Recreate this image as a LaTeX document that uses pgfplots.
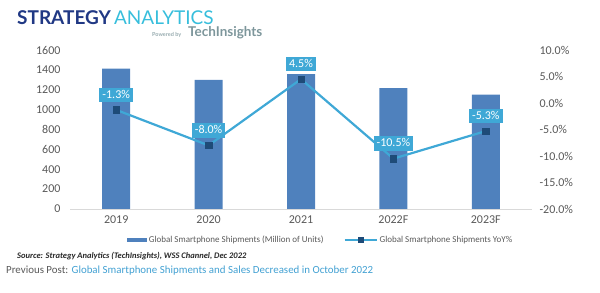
\documentclass[border=0pt]{standalone}
\usepackage{pgfplots}
\pgfplotsset{compat=1.18}
\usepackage{fontspec}
\setmainfont{Carlito}
\newfontfamily\logofont{Lato}

\definecolor{barblue}{RGB}{79,129,189}
\definecolor{lineblue}{RGB}{63,168,214}
\definecolor{marknavy}{RGB}{30,75,120}
\definecolor{tickgray}{RGB}{89,89,89}
\definecolor{basegray}{RGB}{217,217,217}
\definecolor{logonavy}{RGB}{32,56,132}
\definecolor{logocyan}{RGB}{55,190,220}
\definecolor{techgray}{RGB}{125,150,155}
\definecolor{linkblue}{RGB}{65,160,210}

\begin{document}
\begin{tikzpicture}[x=1pt,y=1pt]
\useasboundingbox (0,0) rectangle (600,292);

% header logo
\node[anchor=base west,inner sep=0,text=logonavy] at (17,267)
  {\logofont\fontsize{19}{19}\selectfont\bfseries STRATEGY\,\textcolor{logocyan}{\mdseries ANALYTICS}};
\node[anchor=base west,inner sep=0,text=techgray!80] at (152,255)
  {\logofont\fontsize{5.5}{6}\selectfont\bfseries Powered by};
\node[anchor=base west,inner sep=0,text=techgray] at (188,255)
  {\logofont\fontsize{13.5}{13.5}\selectfont\bfseries TechInsights};

% shipments (left axis)
\begin{axis}[
  at={(70pt,83pt)}, anchor=south west,
  scale only axis, width=462pt, height=159pt,
  xmin=-0.5, xmax=4.5, ymin=0, ymax=1600,
  axis x line*=bottom, axis y line*=left,
  x axis line style={draw=basegray, line width=0.8pt},
  y axis line style={draw=none},
  major tick length=0pt,
  xtick={0,...,4}, xticklabels={2019,2020,2021,2022F,2023F},
  ytick={0,200,...,1600},
  ticklabel style={font=\fontsize{12}{12}\selectfont, text=tickgray},
  xticklabel style={yshift=-3pt},
  yticklabel style={xshift=-6pt},
  /pgf/number format/assume math mode=true,
  /pgf/number format/1000 sep={},
  clip=false,
]
\addplot[ybar, bar width=28pt, fill=barblue, draw=none]
  coordinates {(0,1412) (1,1300) (2,1358) (3,1216) (4,1152)};
\end{axis}

% year-on-year growth (right axis)
\begin{axis}[
  at={(70pt,83pt)}, anchor=south west,
  scale only axis, width=462pt, height=159pt,
  xmin=-0.5, xmax=4.5, ymin=-20, ymax=10,
  axis x line=none, axis y line*=right,
  y axis line style={draw=none},
  major tick length=0pt,
  ytick={-20,-15,...,10},
  yticklabel={\pgfmathprintnumber[fixed,fixed zerofill,precision=1]{\tick}\%},
  ticklabel style={font=\fontsize{12}{12}\selectfont, text=tickgray},
  yticklabel style={xshift=4pt},
  /pgf/number format/assume math mode=true,
  clip=false,
  legend columns=2,
  legend style={at={(0.543,-0.195)}, anchor=center, draw=none, fill=none,
    font=\fontsize{9}{10}\selectfont, text=tickgray,
    /tikz/every even column/.append style={column sep=18pt}},
]
\addlegendimage{legend image code/.code={
  \fill[barblue] (0pt,-1.6pt) rectangle (19pt,1.6pt);}}
\addlegendentry{Global Smartphone Shipments (Million of Units)}
\addplot[lineblue, line width=2.2pt,
  mark=square*, mark size=3.2pt,
  mark options={fill=marknavy, draw=marknavy, line width=0.4pt},
  point meta=y,
  nodes near coords={\pgfmathprintnumber[fixed,fixed zerofill,precision=1]{\pgfplotspointmeta}\%},
  every node near coord/.append style={anchor=center, yshift=15pt,
    fill=lineblue, text=white, font=\fontsize{12}{12}\selectfont,
    inner xsep=3pt, inner ysep=2pt, text height=8.5pt, text depth=2pt},
  legend image code/.code={
    \draw[lineblue, line width=1.8pt] (0pt,0pt) -- (32pt,0pt);
    \fill[marknavy] (14pt,-2pt) rectangle (18pt,2pt);},
]
  coordinates {(0,-1.3) (1,-8.0) (2,4.5) (3,-10.5) (4,-5.3)};
\addlegendentry{Global Smartphone Shipments YoY\%}
\end{axis}

% source and footer
\node[anchor=base west,inner sep=0,text=black!85] at (17,34)
  {\fontsize{8.5}{9}\selectfont\bfseries\itshape Source: Strategy Analytics (TechInsights), WSS Channel, Dec 2022};
\node[anchor=base west,inner sep=0] at (6,19)
  {\fontsize{10.9}{11}\selectfont\textcolor{tickgray}{Previous Post:} \textcolor{linkblue}{Global Smartphone Shipments and Sales Decreased in October 2022}};
\end{tikzpicture}
\end{document}
